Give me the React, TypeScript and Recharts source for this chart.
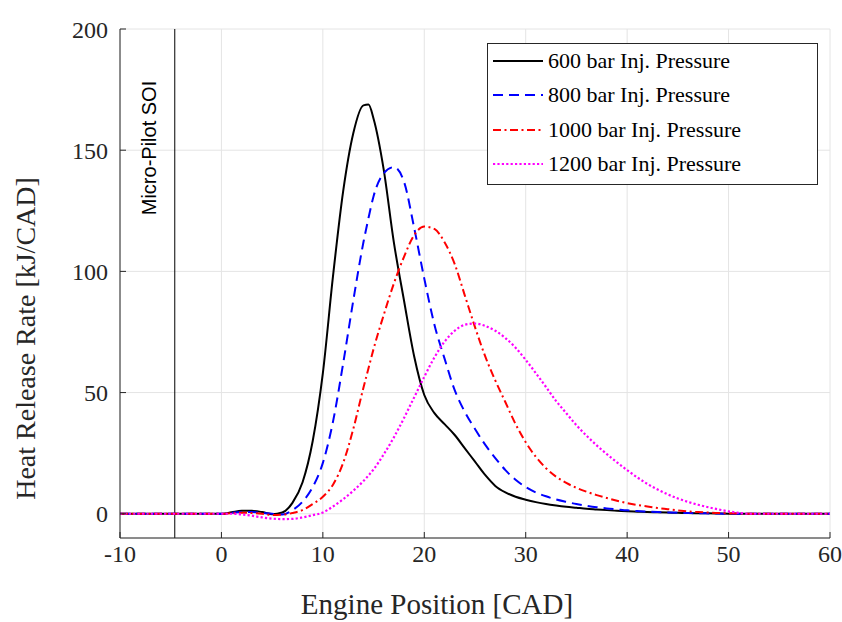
import React from 'react';
import { LineChart, Line, XAxis, YAxis, CartesianGrid, ReferenceLine, Legend, Label } from 'recharts';

// crank angle (CAD) sample points
const cad = [
  -10, -5, 0, 1, 2, 3, 4, 5, 6, 7, 8, 9, 10, 11, 12, 13, 14, 14.5, 15, 16, 17, 18, 19, 20,
  21, 22, 23, 24, 25, 26, 27, 28, 29, 30, 31, 32, 33, 34, 35, 36, 37, 38, 39, 40,
  41, 42, 43, 44, 45, 46, 47, 48, 49, 50, 51, 52, 55, 60,
];

// heat release rate [kJ/CAD] per injection pressure
const hrr600 = [
  0, 0, 0, 0.6, 1.2, 1.2, 0.7, -0.2, 0.5, 4.5, 13, 30, 58, 98, 133, 157, 168.5, 168.8, 163, 142, 112, 88, 65, 49,
  41.5, 37, 32.5, 27, 21.5, 16, 11.5, 8.8, 7, 5.8, 4.8, 4, 3.4, 2.9, 2.5, 2.1, 1.8, 1.5, 1.2, 1,
  0.85, 0.7, 0.6, 0.5, 0.4, 0.3, 0.25, 0.2, 0.1, 0, 0, 0, 0, 0,
];
const hrr800 = [
  0, 0, 0, 0.4, 0.7, 0.7, 0.4, 0, -0.3, 1.5, 5, 11, 21, 38, 62, 88, 112, 122, 131, 140.5, 143, 137, 118, 97,
  78, 64, 51, 42, 35, 28.5, 23, 18, 14, 11, 8.8, 7.2, 5.9, 4.9, 4, 3.3, 2.7, 2.2, 1.8, 1.4,
  1.1, 0.9, 0.7, 0.55, 0.4, 0.3, 0.2, 0.15, 0.1, 0, 0, 0, 0, 0,
];
const hrr1000 = [
  0, 0, 0, 0.2, 0.4, 0.3, 0, -0.5, -0.4, 0.3, 1.5, 4, 7, 12, 21, 35, 52, 60, 68, 82, 95, 106, 115, 118.5,
  117.5, 112, 103, 90, 77, 65, 55, 46, 37, 29.5, 23.5, 18.8, 15.3, 12.7, 10.7, 9.1, 7.7, 6.5, 5.4, 4.4,
  3.6, 3, 2.4, 1.9, 1.4, 1, 0.7, 0.5, 0.3, 0.2, 0.1, 0, 0, 0,
];
const hrr1200 = [
  0, 0, 0, 0, -0.3, -0.8, -1.5, -2, -2.2, -2.1, -1.5, -0.6, 0.5, 3, 6, 9.5, 13.5, 15.8, 18.3, 24.5, 31.5, 39.5, 48, 56.5,
  64.5, 71, 75.5, 78, 78.5, 77.5, 75.5, 72.5, 68.5, 63.5, 58, 52.3, 46.5, 41.5, 36.5, 32.2, 28.2, 24.6, 21.2, 18,
  15, 12.3, 10, 8, 6.3, 4.9, 3.7, 2.7, 1.8, 1, 0.4, 0, 0, 0,
];

const xTicks = [-10, 0, 10, 20, 30, 40, 50, 60];
const yTicks = [0, 50, 100, 150, 200];
const soiCad = -4.6;

const SERIES = [
  { key: 'hrr600', name: '600 bar Inj. Pressure', values: hrr600, color: '#000000', dash: undefined as string | undefined, width: 2 },
  { key: 'hrr800', name: '800 bar Inj. Pressure', values: hrr800, color: '#0000ff', dash: '10 6', width: 2 },
  { key: 'hrr1000', name: '1000 bar Inj. Pressure', values: hrr1000, color: '#ff0000', dash: '8 3.5 2 3.5', width: 2 },
  { key: 'hrr1200', name: '1200 bar Inj. Pressure', values: hrr1200, color: '#ff00ff', dash: '2.2 2.2', width: 2.2 },
];

const data = cad.map((x, i) => {
  const row: Record<string, number> = { cad: x };
  SERIES.forEach((s) => (row[s.key] = s.values[i]));
  return row;
});

const SERIF = '"Liberation Serif", "Times New Roman", serif';
const AXIS = '#262626';

function LegendBox() {
  return (
    <div
      style={{
        width: 331,
        height: 142,
        background: '#fff',
        border: `1px solid ${AXIS}`,
        boxSizing: 'border-box',
        fontFamily: SERIF,
        fontSize: 22,
        color: '#000',
      }}
    >
      {SERIES.map((s) => (
        <div key={s.key} style={{ height: 34.3, display: 'flex', alignItems: 'center', whiteSpace: 'nowrap' }}>
          <svg width={55} height={10} style={{ marginLeft: 5, flex: 'none' }}>
            <line x1={0} y1={5} x2={50} y2={5} stroke={s.color} strokeWidth={s.width} strokeDasharray={s.dash} />
          </svg>
          <span>{s.name}</span>
        </div>
      ))}
    </div>
  );
}

function SoiLabel(props: any) {
  const vb = props.viewBox;
  const x = vb.x - 19;
  const y = vb.y + 119;
  return (
    <text x={x} y={y} transform={`rotate(-90 ${x} ${y})`} textAnchor="middle"
      fontFamily='"Liberation Sans", Arial, sans-serif' fontSize={20} fill="#000">
      Micro-Pilot SOI
    </text>
  );
}

function XTitle(props: any) {
  const vb = props.viewBox;
  return (
    <text x={vb.x + vb.width / 2 - 38} y={vb.y + 76} textAnchor="middle" fontFamily={SERIF} fontSize={29} fill={AXIS}>
      Engine Position [CAD]
    </text>
  );
}

function YTitle(props: any) {
  const vb = props.viewBox;
  const x = vb.x + 25;
  const y = vb.y + vb.height / 2 + 55;
  return (
    <text x={x} y={y} transform={`rotate(-90 ${x} ${y})`} textAnchor="middle" fontFamily={SERIF} fontSize={28} fill={AXIS}>
      Heat Release Rate [kJ/CAD]
    </text>
  );
}

export default function App() {
  const tickStyle = { fontFamily: SERIF, fontSize: 24, fill: AXIS };
  return (
    <div style={{ position: 'absolute', left: 0, top: 0, background: '#fff' }}>
      <LineChart width={842} height={622} data={data} margin={{ top: 29, right: 12, bottom: 0, left: 10 }}>
        <CartesianGrid stroke="#e4e4e4" />
        <XAxis dataKey="cad" type="number" domain={[-10, 60]} ticks={xTicks} allowDataOverflow
          height={84} tickSize={-6} tickMargin={13} stroke={AXIS} tick={tickStyle}>
          <Label content={XTitle} />
        </XAxis>
        <XAxis xAxisId="top" orientation="top" type="number" domain={[-10, 60]} ticks={xTicks} allowDataOverflow
          height={0} tickSize={-6} tick={false} stroke={AXIS} />
        <YAxis type="number" domain={[-10, 200]} ticks={yTicks} allowDataOverflow
          width={110} tickSize={-6} tickMargin={18} stroke={AXIS} tick={tickStyle}>
          <Label content={YTitle} />
        </YAxis>
        <YAxis yAxisId="right" orientation="right" type="number" domain={[-10, 200]} ticks={yTicks} allowDataOverflow
          width={0} tickSize={-6} tick={false} stroke={AXIS} />
        <ReferenceLine x={soiCad} stroke="#000" strokeWidth={1} label={SoiLabel} />
        {SERIES.map((s) => (
          <Line key={s.key} dataKey={s.key} name={s.name} type="monotone" stroke={s.color}
            strokeWidth={s.width} strokeDasharray={s.dash} dot={false} activeDot={false} isAnimationActive={false} />
        ))}
        <Legend layout="horizontal" verticalAlign="middle" content={LegendBox}
          wrapperStyle={{ left: 487, top: 43, width: 331, height: 142 }} />
      </LineChart>
    </div>
  );
}
